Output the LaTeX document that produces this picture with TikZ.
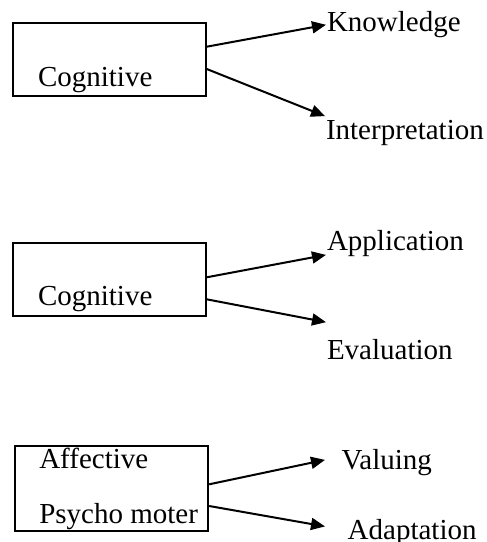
\documentclass[tikz,border=0pt]{standalone}
\usepackage{fontspec}
\setmainfont{Liberation Serif}
\usepackage{tikz}
\usetikzlibrary{arrows.meta,positioning}

\tikzset{
  areabox/.style={draw,line width=2pt,inner sep=0pt},
  lbl/.style={anchor=base west,inner sep=0pt,font=\fontsize{29}{35}\selectfont},
}

\begin{document}
\begin{tikzpicture}[x=1pt,y=-1pt,line width=2pt]
  \useasboundingbox (0,0) rectangle (487,542);
  % boxes
  \node (cog1) [areabox,minimum width=193pt,minimum height=73pt] at (109.2,59.2) {};
  \node (cog2) [areabox,minimum width=193pt,minimum height=73pt] at (109.2,279) {};
  \node (aff) [areabox,minimum width=193pt,minimum height=85pt] at (111.7,488.3) {};
  % texts inside the boxes
  \node (cogtxt1) [lbl] at (37,86) {Cognitive};
  \node (cogtxt2) [lbl] at (37,305) {Cognitive};
  \node (afftxt) [lbl] at (38.3,468.3) {Affective};
  \node (psytxt) [lbl] at (38.3,523.3) {Psycho moter};
  % outcomes
  \node (know) [lbl] at (326,31.7) {Knowledge};
  \node (interp) [lbl] at (325,139.3) {Interpretation};
  \node (appl) [lbl] at (326,250) {Application};
  \node (eval) [lbl] at (326,359.3) {Evaluation};
  \node (valu) [lbl] at (340.7,469.3) {Valuing};
  \node (adap) [lbl] at (346.7,539.3) {Adaptation};
  \path[->,>={Triangle[length=14pt,width=12pt]}]
    ([yshift=12.5pt]cog1.east) edge (know.west)
    ([yshift=-9.8pt]cog1.east) edge ([yshift=3pt]interp.north west)
    ([yshift=1.7pt]cog2.east) edge ([yshift=2.3pt]appl.south west)
    ([yshift=-20.3pt]cog2.east) edge ([yshift=16pt]eval.north west)
    ([yshift=4pt]aff.east) edge ([xshift=-15.7pt,yshift=2.5pt]valu.west)
    ([yshift=-17.7pt]aff.east) edge ([xshift=-21.7pt,yshift=5.9pt]adap.west);
\end{tikzpicture}
\end{document}
